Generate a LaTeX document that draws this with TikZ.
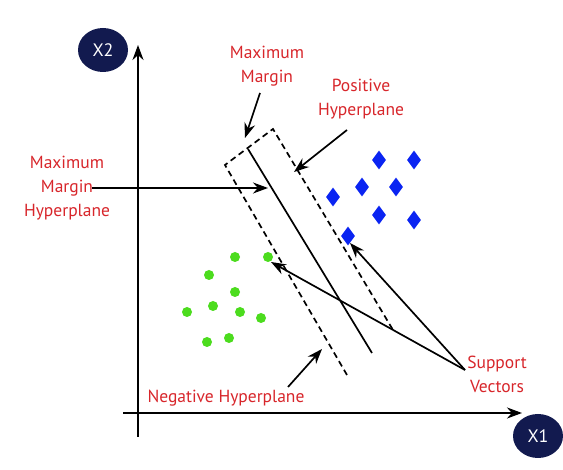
\documentclass[tikz,border=0pt]{standalone}
\usepackage{fontspec}
\setmainfont{PT Sans}
\usetikzlibrary{arrows.meta,shapes.geometric}
\definecolor{navy}{HTML}{121A4F}
\definecolor{lblred}{HTML}{D8262B}
\definecolor{dotgreen}{HTML}{4CDC1E}
\definecolor{diablue}{HTML}{0A24F2}
\begin{document}
\begin{tikzpicture}[x=1pt,y=-1pt,
  axis/.style={line width=2.2pt,-{Stealth[length=15pt,width=11pt]}},
  pointer/.style={line width=1.7pt,-{Stealth[length=15pt,width=11pt]}},
  plane/.style={line width=1.7pt},
  dashplane/.style={line width=1.7pt,dash pattern=on 6pt off 4pt},
  lbl/.style={text=lblred,font=\fontsize{17.5}{24}\selectfont,align=center,inner sep=0pt},
  axlbl/.style={ellipse,fill=navy,text=white,minimum width=50pt,minimum height=44pt,inner sep=0pt,font=\fontsize{18}{20}\selectfont},
  gdot/.style={circle,fill=dotgreen,minimum size=10pt,inner sep=0pt},
  bdia/.style={diamond,fill=diablue,minimum width=14pt,minimum height=19pt,inner sep=0pt}]
\useasboundingbox (0,0) rectangle (563,470);
\fill[white] (0,0) rectangle (563,470);
% axes
\coordinate (ybot) at (138,437);
\coordinate (ytop) at (138,45);
\coordinate (xleft) at (123,413);
\coordinate (xright) at (522,413);
\draw[axis] (ybot) -- (ytop);
\draw[axis] (xleft) -- (xright);
\node[axlbl] (x2) at (103,50) {X2};
\node[axlbl] (x1) at (538,436) {X1};
% planes
\coordinate (dl1) at (225,165);
\coordinate (dl2) at (347,375);
\coordinate (dr1) at (273,129);
\coordinate (dr2) at (393,330);
\coordinate (s1) at (248,149);
\coordinate (s2) at (372,353);
\draw[dashplane] (dl2) -- (dl1) -- (dr1) -- (dr2);
\draw[plane] (s1) -- (s2);
% points
\foreach \p [count=\i] in {(209,275),(235,257),(268,257),(187,312),(213,306),(235,292),(240,312),(261,318),(207,342),(229,338)}
  \node[gdot] (g\i) at \p {};
\foreach \p [count=\i] in {(379,160),(414,160),(362,187),(396,187),(333,197),(379,215),(414,220),(348,236)}
  \node[bdia] (b\i) at \p {};
% labels
\node[lbl] (mm) at (267,66) {Maximum\\Margin};
\node[lbl] (ph) at (361,99) {Positive\\Hyperplane};
\node[lbl] (mmh) at (67,188) {Maximum\\Margin\\Hyperplane};
\node[lbl] (nh) at (226,398) {Negative Hyperplane};
\node[lbl] (sv) at (497,374) {Support\\Vectors};
% pointers
\coordinate (mmS) at (260,93);
\coordinate (mmT) at (245,138);
\draw[pointer] (mmS) -- (mmT);
\coordinate (phS) at (347,130);
\coordinate (phT) at (294,172);
\draw[pointer] (phS) -- (phT);
\coordinate (mmhS) at (92,188);
\coordinate (mmhT) at (268,188);
\draw[pointer] (mmhS) -- (mmhT);
\coordinate (nhS) at (288,387);
\coordinate (nhT) at (322,349);
\draw[pointer] (nhS) -- (nhT);
\coordinate (svS) at (465,370);
\coordinate (svT1) at (271,262);
\coordinate (svT2) at (350,243);
\draw[pointer] (svS) -- (svT1);
\draw[pointer] (svS) -- (svT2);
\end{tikzpicture}
\end{document}
